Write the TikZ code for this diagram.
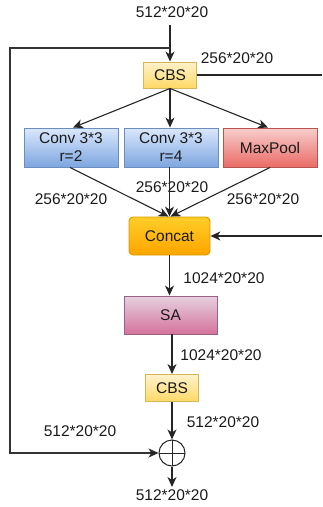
\documentclass[tikz,border=0pt]{standalone}
\usepackage{fontspec}
\setmainfont{Liberation Sans}
\usetikzlibrary{arrows.meta}
\definecolor{txt}{HTML}{1A1A1A}
\tikzset{
  base/.style={draw, line width=0.9pt, inner sep=0pt, align=center, text=txt,
    font=\fontsize{15.5}{18}\selectfont},
  cbsbox/.style={base, draw=cbsedge, top color=cbstop, bottom color=cbsbot,
    minimum width=53pt, minimum height=26pt},
  convbox/.style={base, draw=convedge, top color=convtop, bottom color=convbot,
    minimum width=94pt, minimum height=39pt},
  poolbox/.style={base, draw=pooledge, top color=pooltop, bottom color=poolbot,
    minimum width=94pt, minimum height=39pt},
  catbox/.style={base, draw=catedge, top color=cattop, bottom color=catbot,
    rounded corners=4pt, minimum width=81pt, minimum height=38pt},
  sabox/.style={base, draw=saedge, top color=satop, bottom color=sabot,
    minimum width=93pt, minimum height=38pt},
  lbl/.style={inner sep=0pt, text=txt, font=\fontsize{15.5}{18}\selectfont},
  conn/.style={draw=black!85, line width=1.1pt},
  loop/.style={draw=black!80, line width=1.7pt},
  arr/.style={conn, -{Stealth[length=10pt, width=9pt, inset=3pt]}},
  sumnode/.style={draw=black!85, line width=1pt, circle, minimum size=26pt, inner sep=0pt,
    path picture={
      \draw[black!85, line width=1pt]
        (path picture bounding box.north) -- (path picture bounding box.south)
        (path picture bounding box.west) -- (path picture bounding box.east);}},
}
\definecolor{cbstop}{HTML}{FFF2CC}\definecolor{cbsbot}{HTML}{FFD966}\definecolor{cbsedge}{HTML}{D6B656}
\definecolor{convtop}{HTML}{DAE8FC}\definecolor{convbot}{HTML}{7EA6E0}\definecolor{convedge}{HTML}{6C8EBF}
\definecolor{pooltop}{HTML}{F8CECC}\definecolor{poolbot}{HTML}{EA6B66}\definecolor{pooledge}{HTML}{B85450}
\definecolor{cattop}{HTML}{FFCD28}\definecolor{catbot}{HTML}{FFA500}\definecolor{catedge}{HTML}{D79B00}
\definecolor{satop}{HTML}{E6D0DE}\definecolor{sabot}{HTML}{D5739D}\definecolor{saedge}{HTML}{996185}
\begin{document}
\begin{tikzpicture}[x=1pt, y=-1pt]
\useasboundingbox (0,0) rectangle (322,507);

% input and first CBS
\node[lbl] (in) at (172,12) {512*20*20};
\node[cbsbox] (cbs1) at (170,75) {CBS};
\coordinate (split) at (170,48);
\coordinate (intop) at (170,25);

% parallel branches
\node[convbox] (conv1) at (71,147.5) {Conv 3*3\\r=2};
\node[convbox] (conv2) at (171,147.5) {Conv 3*3\\r=4};
\node[poolbox] (pool) at (270,147.5) {MaxPool};

% merge, attention, output CBS
\node[catbox] (cat) at (169.5,236) {Concat};
\node[sabox] (sa) at (170.5,315) {SA};
\node[cbsbox, minimum height=27pt] (cbs2) at (172,388) {CBS};
\node[sumnode] (sum) at (172,453) {};
\coordinate (out) at (172,487);
\node[lbl] (outl) at (172,495) {512*20*20};

% bypass routes
\coordinate (lt) at (10,48);
\coordinate (lb) at (10,453);
\coordinate (ra) at (322,75);
\coordinate (rb) at (322,236);

% connectors
\draw[arr] (intop) -- (cbs1.north);
\draw[loop, line join=miter] (split) -- (lt) -- (lb) -- ([xshift=-8pt]sum.west);
\draw[arr] ([xshift=-9pt]sum.west) -- (sum.west);
\draw[conn] (cbs1.east) -- (ra);
\draw[arr] (rb) -- (cat.east);

\draw[arr] (cbs1.south) -- ([xshift=2pt]conv1.north);
\draw[arr] (cbs1.south) -- (conv2.north -| cbs1.south);
\draw[arr] (cbs1.south) -- ([xshift=-2pt]pool.north);

\draw[arr] ([xshift=-1pt]conv1.south) -- ([xshift=-1pt]cat.north);
\draw[arr] (conv2.south -| cat.north) -- (cat.north);
\draw[arr] (pool.south) -- ([xshift=1pt]cat.north);

\draw[arr] (cat.south) -- (cat.south |- sa.north);
\draw[arr] (sa.south -| cbs2.north) -- (cbs2.north);
\draw[arr] (cbs2.south) -- (sum.north);
\draw[arr] (sum.south) -- (out);

% tensor sizes
\node[lbl] at (237,58) {256*20*20};
\node[lbl] at (71,199) {256*20*20};
\node[lbl] at (172,187) {256*20*20};
\node[lbl] at (263,199) {256*20*20};
\node[lbl] at (224,278) {1024*20*20};
\node[lbl] at (221,355) {1024*20*20};
\node[lbl] at (223,422) {512*20*20};
\node[lbl] at (80,431) {512*20*20};
\end{tikzpicture}
\end{document}
